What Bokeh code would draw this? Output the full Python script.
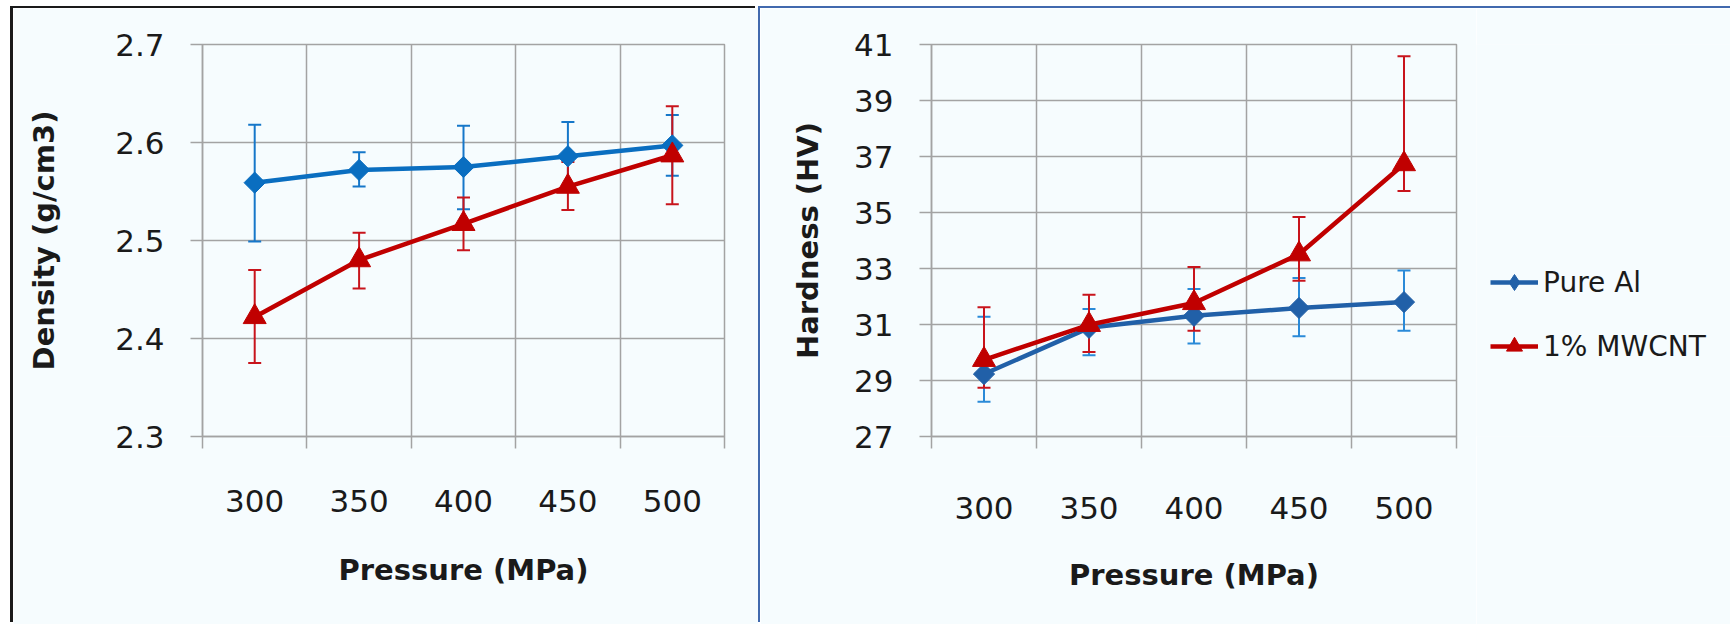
from bokeh.plotting import figure
from bokeh.models import Range1d, FixedTicker, Whisker, TeeHead, ColumnDataSource, Legend, LegendItem
from bokeh.layouts import row
from bokeh.embed import file_html
from bokeh.resources import INLINE

# ---------------- data ----------------
pressure = [300, 350, 400, 450, 500]

density_al = [2.559, 2.572, 2.575, 2.586, 2.597]
density_al_lo = [2.499, 2.555, 2.532, 2.551, 2.566]
density_al_hi = [2.618, 2.590, 2.617, 2.621, 2.628]

density_cnt = [2.422, 2.480, 2.517, 2.555, 2.587]
density_cnt_lo = [2.375, 2.451, 2.490, 2.531, 2.537]
density_cnt_hi = [2.470, 2.508, 2.544, 2.580, 2.637]

hardness_al = [29.23, 30.88, 31.31, 31.59, 31.80]
hardness_al_lo = [28.24, 29.90, 30.32, 30.58, 30.78]
hardness_al_hi = [31.28, 31.55, 32.27, 32.66, 32.93]

hardness_cnt = [29.74, 30.99, 31.77, 33.51, 36.73]
hardness_cnt_lo = [28.74, 30.02, 30.78, 32.56, 35.77]
hardness_cnt_hi = [31.62, 32.06, 33.05, 34.84, 40.58]

density_ticks = [2.3, 2.4, 2.5, 2.6, 2.7]
hardness_ticks = [27, 29, 31, 33, 35, 37, 39, 41]

series_names = ["Pure Al", "1% MWCNT"]
x_title = "Pressure (MPa)"
density_title = "Density (g/cm3)"
hardness_title = "Hardness (HV)"

# ---------------- style ----------------
FONT = "DejaVu Sans"
BG = "#F6FCFE"
GRID = "#A3A3A3"
TXT = "#1A1A1A"
RED = "#C00000"
RED_ERR = "#C8141C"
BLUE_L = "#0A6EC0"
BLUE_R = "#2160A8"
FRAME_BLUE = "#4169AE"

half = (pressure[1] - pressure[0]) / 2
boundaries = [p - half for p in pressure] + [pressure[-1] + half]


def base_fig(width, height, mbl, mbr, mbt, mbb, yticks, ytitle, ylab_standoff,
             xlab_standoff, xtitle_standoff, ytick_standoff, styles, margin):
    p = figure(width=width, height=height, output_backend="svg", toolbar_location=None,
               x_range=Range1d(boundaries[0], boundaries[-1]),
               y_range=Range1d(yticks[0], yticks[-1]),
               min_border_left=mbl, min_border_right=mbr, min_border_top=mbt,
               min_border_bottom=mbb, background_fill_color=BG, border_fill_color=BG,
               outline_line_color=GRID, outline_line_width=1.5, styles=styles)
    p.margin = margin
    # x axis
    xa = p.xaxis[0]
    xa.ticker = FixedTicker(ticks=pressure, minor_ticks=boundaries)
    xa.major_tick_out = 0
    xa.major_tick_in = 0
    xa.minor_tick_out = 12
    xa.minor_tick_in = 0
    xa.minor_tick_line_color = GRID
    xa.minor_tick_line_width = 1.5
    xa.axis_line_color = GRID
    xa.axis_line_width = 1.5
    xa.major_label_text_font = FONT
    xa.major_label_text_font_size = "31px"
    xa.major_label_text_color = TXT
    xa.major_label_standoff = xlab_standoff
    xa.axis_label = x_title
    xa.axis_label_text_font = FONT
    xa.axis_label_text_font_style = "bold"
    xa.axis_label_text_font_size = "29px"
    xa.axis_label_text_color = TXT
    xa.axis_label_standoff = xtitle_standoff
    # y axis
    ya = p.yaxis[0]
    ya.ticker = FixedTicker(ticks=yticks)
    ya.major_label_overrides = {t: str(t) for t in yticks}
    ya.major_tick_out = 12
    ya.major_tick_in = 0
    ya.major_tick_line_color = GRID
    ya.major_tick_line_width = 1.5
    ya.minor_tick_line_color = None
    ya.axis_line_color = GRID
    ya.axis_line_width = 1.5
    ya.major_label_text_font = FONT
    ya.major_label_text_font_size = "31px"
    ya.major_label_text_color = TXT
    ya.major_label_standoff = ytick_standoff
    ya.axis_label = ytitle
    ya.axis_label_text_font = FONT
    ya.axis_label_text_font_style = "bold"
    ya.axis_label_text_font_size = "29px"
    ya.axis_label_text_color = TXT
    ya.axis_label_standoff = ylab_standoff
    # grids
    p.xgrid.ticker = FixedTicker(ticks=boundaries)
    p.xgrid.grid_line_color = GRID
    p.xgrid.grid_line_width = 1.5
    p.ygrid.grid_line_color = GRID
    p.ygrid.grid_line_width = 1.5
    return p


def add_series(p, y, lo, hi, line_color, err_color, marker, msize, angle=0.0):
    src = ColumnDataSource(dict(x=pressure, y=y, lo=lo, hi=hi))
    w = Whisker(base="x", lower="lo", upper="hi", source=src, line_color=err_color,
                line_width=2,
                upper_head=TeeHead(size=13, line_color=err_color, line_width=2),
                lower_head=TeeHead(size=13, line_color=err_color, line_width=2))
    p.add_layout(w)
    p.line("x", "y", source=src, line_color=line_color, line_width=4.5)
    p.scatter("x", "y", source=src, marker=marker, size=msize, angle=angle,
              fill_color=line_color, line_color=line_color)
    return src


# ---------------- left: density ----------------
p1 = base_fig(745, 616, 189, 34, 36, 188, density_ticks, density_title,
              ylab_standoff=51, xlab_standoff=41, xtitle_standoff=38, ytick_standoff=26,
              styles={"box-shadow": "-3px -2px 0 0 #1a1a1a"}, margin=(8, 0, 0, 13))
add_series(p1, density_al, density_al_lo, density_al_hi, BLUE_L, "#1677C9",
           "square", 15, 0.785398)
add_series(p1, density_cnt, density_cnt_lo, density_cnt_hi, RED, RED_ERR,
           "triangle", 23)

# ---------------- right: hardness ----------------
p2 = base_fig(716, 616, 171, 20, 34, 178, hardness_ticks, hardness_title,
              ylab_standoff=26, xlab_standoff=48, xtitle_standoff=36, ytick_standoff=26,
              styles={"box-shadow": f"-2px -2px 0 0 {FRAME_BLUE}, 0 -2px 0 0 {FRAME_BLUE}"},
              margin=(8, 0, 0, 2))
src_al = add_series(p2, hardness_al, hardness_al_lo, hardness_al_hi, BLUE_R,
                    "#2A8AD8", "square", 15, 0.785398)
src_cnt = add_series(p2, hardness_cnt, hardness_cnt_lo, hardness_cnt_hi, RED,
                     RED_ERR, "triangle", 23)

# ---------------- legend strip (right of the hardness chart) ----------------
p3 = figure(width=254, height=616, output_backend="svg", toolbar_location=None,
            x_range=Range1d(0, 1), y_range=Range1d(0, 1),
            x_axis_location=None, y_axis_location=None, min_border=0,
            background_fill_color=BG, border_fill_color=BG, outline_line_color=None,
            styles={"box-shadow": f"0 -2px 0 0 {FRAME_BLUE}"})
p3.margin = (8, 0, 0, 0)
p3.grid.visible = False
# legend keys: same series, hidden here (they are drawn in the hardness chart)
k_al_l = p3.line("x", "y", source=src_al, line_color=BLUE_R, line_width=4.5, visible=False)
k_al_s = p3.scatter("x", "y", source=src_al, marker="diamond", size=19,
                    fill_color=BLUE_R, line_color=BLUE_R, visible=False)
k_cnt_l = p3.line("x", "y", source=src_cnt, line_color=RED, line_width=4.5, visible=False)
k_cnt_s = p3.scatter("x", "y", source=src_cnt, marker="triangle", size=19,
                     fill_color=RED, line_color=RED, visible=False)

legend = Legend(items=[LegendItem(label=series_names[0], renderers=[k_al_l, k_al_s]),
                       LegendItem(label=series_names[1], renderers=[k_cnt_l, k_cnt_s])],
                location=(14, 70), padding=0, margin=0, spacing=24,
                glyph_width=48, glyph_height=40, label_height=40, label_standoff=5,
                label_text_font=FONT, label_text_font_size="28px", label_text_color=TXT,
                background_fill_alpha=0, border_line_alpha=0)
p3.add_layout(legend)

layout = row(p1, p2, p3)
open("out.html", "w").write(file_html(layout, INLINE))
